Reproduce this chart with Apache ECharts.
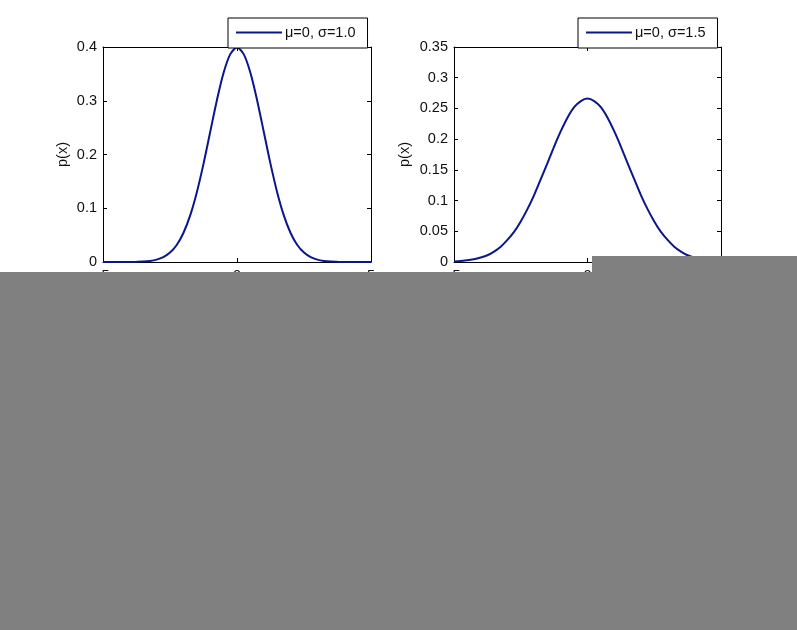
<!DOCTYPE html>
<html>
<head>
<meta charset="utf-8">
<script src="https://cdn.jsdelivr.net/npm/echarts@6/dist/echarts.min.js"></script>
<style>
html,body{margin:0;padding:0;background:#fff;}
#c{width:797px;height:630px;}
</style>
</head>
<body>
<div id="c"></div>
<script>
// x positions (shared by both curves)
const xValues = [-5,-4.75,-4.5,-4.25,-4,-3.75,-3.5,-3.25,-3,-2.75,-2.5,-2.25,-2,-1.75,-1.5,-1.25,-1,-0.75,-0.5,-0.25,0,
  0.25,0.5,0.75,1,1.25,1.5,1.75,2,2.25,2.5,2.75,3,3.25,3.5,3.75,4,4.25,4.5,4.75,5];
// curve (mu=0, sigma=1.0)
const pSigma10 = [0,0,0,0,0.0001,0.0004,0.0009,0.002,0.0044,0.0091,0.0175,0.0317,0.054,0.0863,0.1295,0.1826,0.242,0.3011,0.3521,0.3867,0.3989,
  0.3867,0.3521,0.3011,0.242,0.1826,0.1295,0.0863,0.054,0.0317,0.0175,0.0091,0.0044,0.002,0.0009,0.0004,0.0001,0,0,0,0];
// curve (mu=0, sigma=1.5)
const pSigma15 = [0.001,0.0017,0.003,0.0045,0.0073,0.011,0.017,0.025,0.036,0.049,0.066,0.086,0.109,0.135,0.161,0.188,0.213,0.235,0.252,0.262,0.266,
  0.262,0.252,0.235,0.213,0.188,0.161,0.135,0.109,0.086,0.066,0.049,0.036,0.025,0.017,0.011,0.0073,0.0045,0.003,0.0017,0.001];
const legendNames = ['\u03bc=0, \u03c3=1.0', '\u03bc=0, \u03c3=1.5'];
const xTicks = {min:-5, max:5, interval:5};
const yLeft = {min:0, max:0.4, interval:0.1};
const yRight = {min:0, max:0.35, interval:0.05};

const lineColor = '#0a168c';
const font = 'Liberation Sans, Arial, sans-serif';
const txt = '#111';
const fs = 14.5;

function pairs(ys){ return xValues.map((x,i)=>[x, ys[i]]); }

function xAxisPair(gi){
  const base = {type:'value', gridIndex:gi, min:xTicks.min, max:xTicks.max, interval:xTicks.interval,
    axisLine:{show:true, onZero:false, lineStyle:{color:'#000', width:1}},
    axisTick:{show:true, inside:true, length:4, lineStyle:{color:'#000'}},
    splitLine:{show:false}};
  return [
    Object.assign({}, base, {position:'bottom', axisLabel:{show:true, color:txt, fontSize:fs, fontFamily:font, margin:6}}),
    Object.assign({}, base, {position:'top', axisLabel:{show:false}})
  ];
}
function yAxisPair(gi, r){
  const base = {type:'value', gridIndex:gi, min:r.min, max:r.max, interval:r.interval,
    axisLine:{show:true, onZero:false, lineStyle:{color:'#000', width:1}},
    axisTick:{show:true, inside:true, length:4, lineStyle:{color:'#000'}},
    splitLine:{show:false}};
  return [
    Object.assign({}, base, {position:'left', name:'p(x)', nameLocation:'middle', nameRotate:90,
      nameGap: gi===0 ? 33 : 42,
      nameTextStyle:{color:txt, fontSize:fs, fontFamily:font},
      axisLabel:{show:true, color:txt, fontSize:fs, fontFamily:font, margin:6}}),
    Object.assign({}, base, {position:'right', axisLabel:{show:false}})
  ];
}

function legendAt(name, left){
  return {data:[name], left:left, top:18, orient:'vertical', icon:'rect', itemWidth:46, itemHeight:2, itemGap:0,
    padding:[7,12,8,8], backgroundColor:'#fff', borderColor:'#000', borderWidth:1, borderRadius:0,
    textStyle:{color:txt, fontSize:fs, fontFamily:font, padding:[0,0,0,-2]}};
}

const chart = echarts.init(document.getElementById('c'), null, {renderer:'canvas'});
chart.setOption({
  backgroundColor:'#fff',
  animation:false,
  grid:[
    {left:103, top:47, width:268, height:215},
    {left:454, top:47, width:267, height:215}
  ],
  xAxis:[...xAxisPair(0), ...xAxisPair(1)],
  yAxis:[...yAxisPair(0, yLeft), ...yAxisPair(1, yRight)],
  legend:[legendAt(legendNames[0], 228), legendAt(legendNames[1], 578)],
  series:[
    {name:legendNames[0], type:'line', xAxisIndex:0, yAxisIndex:0, data:pairs(pSigma10), showSymbol:false, smooth:0.3,
      lineStyle:{color:lineColor, width:2}, itemStyle:{color:lineColor}, z:3},
    {name:legendNames[1], type:'line', xAxisIndex:2, yAxisIndex:2, data:pairs(pSigma15), showSymbol:false, smooth:0.3,
      lineStyle:{color:lineColor, width:2}, itemStyle:{color:lineColor}, z:3}
  ],
  graphic:[
    {type:'rect', shape:{x:0, y:272, width:797, height:358}, style:{fill:'#808080'}, z:100},
    {type:'rect', shape:{x:592, y:256, width:205, height:16}, style:{fill:'#808080'}, z:100}
  ]
});
</script>
</body>
</html>
